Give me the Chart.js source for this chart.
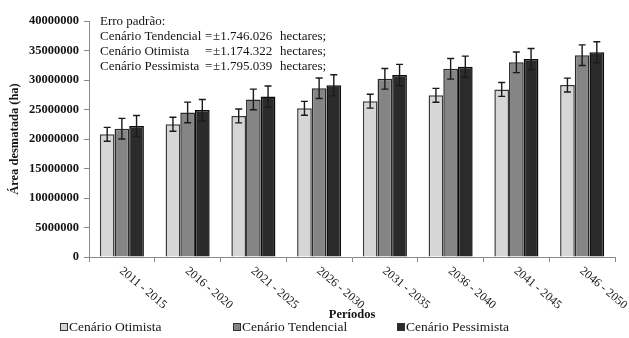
<!DOCTYPE html>
<html>
<head>
<meta charset="utf-8">
<script src="https://cdn.jsdelivr.net/npm/chart.js@4/dist/chart.umd.min.js"></script>
<style>
  html, body { margin: 0; padding: 0; background: #ffffff; }
  canvas { display: block; }
</style>
</head>
<body>
<canvas id="chart" width="629" height="338"></canvas>
<script>
// Periods (x categories)
const periodos = ['2011 - 2015', '2016 - 2020', '2021 - 2025', '2026 - 2030',
                  '2031 - 2035', '2036 - 2040', '2041 - 2045', '2046 - 2050'];

// Deforested area per scenario (ha)
const cenarioOtimista    = [20800000, 22500000, 23900000, 25200000, 26400000, 27400000, 28400000, 29150000];
const cenarioTendencial  = [21750000, 24500000, 26700000, 28600000, 30200000, 31900000, 33000000, 34200000];
const cenarioPessimista  = [22200000, 24900000, 27200000, 29100000, 30850000, 32250000, 33550000, 34700000];

// Standard error per scenario (ha)
const erroOtimista   = 1174322;
const erroTendencial = 1746026;
const erroPessimista = 1795039;

// Y axis ticks
const yMin = 0;
const yMax = 40000000;
const yStep = 5000000;

// Text block in the upper-left corner
const notaTitulo = 'Erro padrão:';
const notaLinhas = [
  ['Cenário Tendencial', '±1.746.026', 'hectares;'],
  ['Cenário Otimista',   '±1.174.322', 'hectares;'],
  ['Cenário Pessimista', '±1.795.039', 'hectares;']
];

const SERIF = '"Liberation Serif", "Times New Roman", serif';
const INK = '#151515';

// Error bars on top of each bar
const errorBars = {
  id: 'errorBars',
  afterDatasetsDraw(chart) {
    const ctx = chart.ctx;
    const y = chart.scales.y;
    chart.data.datasets.forEach((ds, di) => {
      const meta = chart.getDatasetMeta(di);
      meta.data.forEach((bar, i) => {
        const v = ds.data[i];
        const top = y.getPixelForValue(v + ds.erro);
        const bot = y.getPixelForValue(v - ds.erro);
        ctx.save();
        ctx.strokeStyle = '#1a1a1a';
        ctx.lineWidth = 1.4;
        ctx.beginPath();
        ctx.moveTo(bar.x, top); ctx.lineTo(bar.x, bot);
        ctx.moveTo(bar.x - 3.5, top); ctx.lineTo(bar.x + 3.5, top);
        ctx.moveTo(bar.x - 3.5, bot); ctx.lineTo(bar.x + 3.5, bot);
        ctx.stroke();
        ctx.restore();
      });
    });
  }
};

// Slanted period labels, reading downward to the right
const slantedLabels = {
  id: 'slantedLabels',
  afterDraw(chart) {
    const ctx = chart.ctx;
    const x = chart.scales.x;
    const area = chart.chartArea;
    ctx.save();
    ctx.fillStyle = INK;
    ctx.font = '12px ' + SERIF;
    ctx.textAlign = 'left';
    ctx.textBaseline = 'top';
    chart.data.labels.forEach((lab, i) => {
      const px = x.getPixelForTick(i);
      ctx.save();
      ctx.translate(px + 3, area.bottom + 8);
      ctx.rotate(40 * Math.PI / 180);
      ctx.fillText(lab, 0, 0);
      ctx.restore();
    });
    ctx.restore();
  }
};

// Standard-error note and bottom legend
const notesAndLegend = {
  id: 'notesAndLegend',
  afterDraw(chart) {
    const ctx = chart.ctx;
    ctx.save();
    ctx.fillStyle = INK;
    ctx.font = '13px ' + SERIF;
    ctx.textBaseline = 'middle';
    ctx.textAlign = 'left';
    ctx.fillText(notaTitulo, 100, 22);
    notaLinhas.forEach((ln, i) => {
      const yy = 37 + i * 15;
      ctx.fillText(ln[0], 100, yy);
      ctx.fillText('=', 205, yy);
      ctx.fillText(ln[1], 213, yy);
      ctx.fillText(ln[2], 280, yy);
    });

    // legend
    const starts = [60, 233, 397];
    ctx.font = '13.5px ' + SERIF;
    chart.data.datasets.forEach((ds, i) => {
      const bx = starts[i];
      const by = 327;
      ctx.fillStyle = ds.backgroundColor;
      ctx.fillRect(bx, by - 4, 8, 8);
      ctx.strokeStyle = '#333';
      ctx.lineWidth = 1;
      ctx.strokeRect(bx + 0.5, by - 3.5, 7, 7);
      ctx.fillStyle = INK;
      ctx.fillText(ds.label, bx + 9, by);
    });
    ctx.restore();
  }
};

new Chart(document.getElementById('chart'), {
  type: 'bar',
  data: {
    labels: periodos,
    datasets: [
      { label: 'Cenário Otimista', data: cenarioOtimista, erro: erroOtimista,
        backgroundColor: '#d6d6d6', borderColor: '#3a3a3a', borderWidth: 1.5 },
      { label: 'Cenário Tendencial', data: cenarioTendencial, erro: erroTendencial,
        backgroundColor: '#858585', borderColor: '#2a2a2a', borderWidth: 1.5 },
      { label: 'Cenário Pessimista', data: cenarioPessimista, erro: erroPessimista,
        backgroundColor: '#2b2b2b', borderColor: '#0a0a0a', borderWidth: 1.5 }
    ]
  },
  options: {
    responsive: false,
    devicePixelRatio: 1,
    animation: false,
    layout: { padding: { top: 21, right: 14, left: 0, bottom: 0 } },
    datasets: { bar: { categoryPercentage: 0.67, barPercentage: 1.0 } },
    plugins: { legend: { display: false }, tooltip: { enabled: false } },
    scales: {
      x: {
        grid: { drawOnChartArea: false, drawTicks: true, tickLength: 5, color: '#8a8a8a', offset: true },
        border: { color: '#8a8a8a', width: 1 },
        ticks: { display: false },
        title: {
          display: true, text: 'Períodos', color: INK,
          font: { family: SERIF, size: 12.5, weight: 'bold' },
          padding: { top: 0, bottom: 16 }
        },
        afterFit(scale) { scale.height = 81; }
      },
      y: {
        min: yMin, max: yMax,
        grid: { drawOnChartArea: false, drawTicks: true, tickLength: 5, color: '#8a8a8a' },
        border: { color: '#8a8a8a', width: 1 },
        ticks: {
          stepSize: yStep, color: INK, padding: 5,
          font: { family: SERIF, size: 12.5, weight: 'bold' },
          callback: (v) => String(v)
        },
        title: {
          display: true, text: 'Área desmatada (ha)', color: INK,
          font: { family: SERIF, size: 12.5, weight: 'bold' },
          padding: { top: 7.5, bottom: 0 }
        },
        afterFit(scale) { scale.width = 89; }
      }
    }
  },
  plugins: [errorBars, slantedLabels, notesAndLegend]
});
</script>
</body>
</html>
